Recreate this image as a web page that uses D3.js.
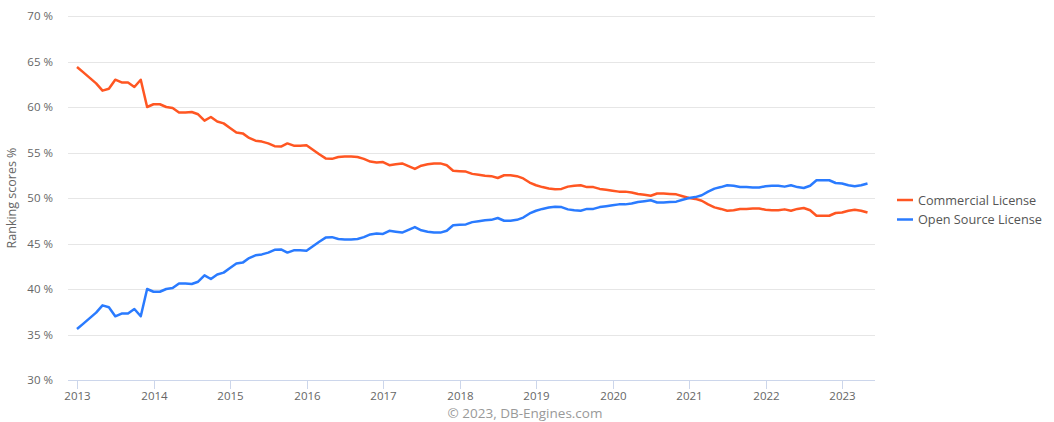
<!DOCTYPE html>
<html>
<head>
<meta charset="utf-8">
<script src="https://cdn.jsdelivr.net/npm/d3@7"></script>
<style>
  body { margin: 0; background: #fff; }
  text { font-family: "Open Sans", sans-serif; }
</style>
</head>
<body>
<div id="chart"></div>
<script>
// monthly values, Jan 2013 .. May 2023
var startYear = 2013
var commercial = [
  64.4, 63.8, 63.2, 62.6, 61.8, 62.0, 63.0, 62.7, 62.7, 62.2, 63.0, 60.0,
  60.3, 60.3, 60.0, 59.9, 59.4, 59.4, 59.45, 59.2, 58.5, 58.9, 58.4, 58.2,
  57.7, 57.2, 57.1, 56.6, 56.3, 56.2, 56.0, 55.7, 55.65, 56.0, 55.75, 55.75,
  55.8, 55.3, 54.8, 54.35, 54.3, 54.5, 54.55, 54.55, 54.5, 54.3, 54.0, 53.9,
  53.95, 53.6, 53.7, 53.8, 53.5, 53.2, 53.55, 53.7, 53.8, 53.8, 53.6, 53.0,
  52.95, 52.9, 52.65, 52.55, 52.45, 52.4, 52.2, 52.5, 52.5, 52.4, 52.15, 51.7,
  51.4, 51.2, 51.05, 50.95, 51.0, 51.25, 51.35, 51.4, 51.2, 51.2, 51.0, 50.9,
  50.8, 50.7, 50.7, 50.6, 50.45, 50.35, 50.25, 50.5, 50.5, 50.45, 50.4, 50.2,
  50.0, 49.9, 49.7, 49.3, 48.97, 48.8, 48.6, 48.65, 48.8, 48.8, 48.85, 48.85,
  48.7, 48.65, 48.65, 48.75, 48.6, 48.8, 48.9, 48.65, 48.05, 48.05, 48.05, 48.35,
  48.4, 48.6, 48.7, 48.6, 48.4
]
var openSource = [
  35.6, 36.2, 36.8, 37.4, 38.2, 38.0, 37.0, 37.3, 37.3, 37.8, 37.0, 40.0,
  39.7, 39.7, 40.0, 40.1, 40.6, 40.6, 40.55, 40.8, 41.5, 41.1, 41.6, 41.8,
  42.3, 42.8, 42.9, 43.4, 43.7, 43.8, 44.0, 44.3, 44.35, 44.0, 44.25, 44.25,
  44.2, 44.7, 45.2, 45.65, 45.7, 45.5, 45.45, 45.45, 45.5, 45.7, 46.0, 46.1,
  46.05, 46.4, 46.3, 46.2, 46.5, 46.8, 46.45, 46.3, 46.2, 46.2, 46.4, 47.0,
  47.05, 47.1, 47.35, 47.45, 47.55, 47.6, 47.8, 47.5, 47.5, 47.6, 47.85, 48.3,
  48.6, 48.8, 48.95, 49.05, 49.0, 48.75, 48.65, 48.6, 48.8, 48.8, 49.0, 49.1,
  49.2, 49.3, 49.3, 49.4, 49.55, 49.65, 49.75, 49.5, 49.5, 49.55, 49.6, 49.8,
  50.0, 50.1, 50.3, 50.7, 51.03, 51.2, 51.4, 51.35, 51.2, 51.2, 51.15, 51.15,
  51.3, 51.35, 51.35, 51.25, 51.4, 51.2, 51.1, 51.35, 51.95, 51.95, 51.95, 51.65,
  51.6, 51.4, 51.3, 51.4, 51.6
]
var yearTicks = [2013, 2014, 2015, 2016, 2017, 2018, 2019, 2020, 2021, 2022, 2023]
var yTicks = [30, 35, 40, 45, 50, 55, 60, 65, 70]
var seriesNames = ['Commercial License', 'Open Source License']
var seriesColors = ['#ff5622', '#2a7bff']

var W = 1054, H = 422
var plotLeft = 68, plotRight = 875, plotTop = 16, plotBottom = 380

var svg = d3.select('#chart').append('svg').attr('width', W).attr('height', H)

// x in fractional years; 2013 -> 77px, 2023 -> 842px
var x = d3.scaleLinear().domain([2013, 2023]).range([77, 842])
var y = d3.scaleLinear().domain([30, 70]).range([plotBottom, plotTop])

// grid
svg.append('g').selectAll('line')
  .data(yTicks.filter(d => d > 30))
  .join('line')
  .attr('x1', plotLeft).attr('x2', plotRight)
  .attr('y1', d => Math.round(y(d)) + 0.5).attr('y2', d => Math.round(y(d)) + 0.5)
  .attr('stroke', '#e6e6e6').attr('stroke-width', 1)

// y labels
svg.append('g').selectAll('text')
  .data(yTicks)
  .join('text')
  .attr('x', 53).attr('y', d => y(d) + 4)
  .attr('text-anchor', 'end')
  .attr('font-size', 11.5).attr('fill', '#666')
  .text(d => d + ' %')

svg.append('text')
  .attr('transform', 'translate(16,' + ((plotTop + plotBottom) / 2) + ') rotate(-90)')
  .attr('text-anchor', 'middle')
  .attr('font-size', 12.5).attr('fill', '#666')
  .text('Ranking scores %')

// x axis line and ticks
svg.append('line')
  .attr('x1', plotLeft).attr('x2', plotRight)
  .attr('y1', plotBottom + 0.5).attr('y2', plotBottom + 0.5)
  .attr('stroke', '#ccd6eb')

var xt = svg.append('g').selectAll('g')
  .data(yearTicks)
  .join('g')
  .attr('transform', d => 'translate(' + (Math.round(x(d)) + 0.5) + ',0)')
xt.append('line')
  .attr('y1', plotBottom).attr('y2', plotBottom + 9)
  .attr('stroke', '#ccd6eb')
xt.append('text')
  .attr('y', plotBottom + 20)
  .attr('text-anchor', 'middle')
  .attr('font-size', 11.5).attr('fill', '#666')
  .text(d => d)

// lines
var line = d3.line()
  .x((d, i) => x(startYear + i / 12))
  .y(d => y(d))

;[commercial, openSource].forEach(function(s, k) {
  svg.append('path')
    .attr('d', line(s))
    .attr('fill', 'none')
    .attr('stroke', seriesColors[k])
    .attr('stroke-width', 2.5)
    .attr('stroke-linejoin', 'round')
})

// legend
var lg = svg.append('g').selectAll('g')
  .data(seriesNames)
  .join('g')
  .attr('transform', (d, i) => 'translate(897,' + (200 + i * 19.5) + ')')
lg.append('line')
  .attr('x1', 0).attr('x2', 16)
  .attr('stroke', (d, i) => seriesColors[i]).attr('stroke-width', 2.5)
lg.append('text')
  .attr('x', 21).attr('y', 4.5)
  .attr('font-size', 12.7).attr('fill', '#555')
  .text(d => d)

// credits
svg.append('text')
  .attr('x', 525).attr('y', 418)
  .attr('text-anchor', 'middle')
  .attr('font-size', 13.5).attr('fill', '#999')
  .text('\u00a9 2023, DB-Engines.com')
</script>
</body>
</html>
